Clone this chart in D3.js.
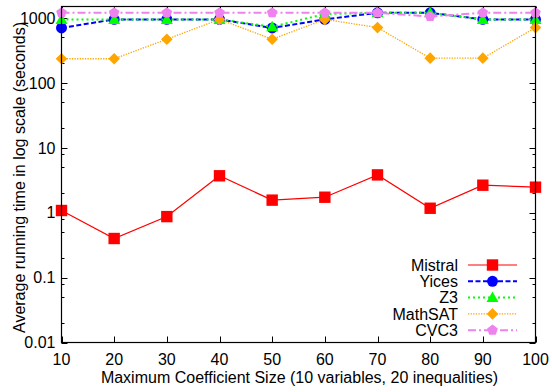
<!doctype html>
<html lang="en">
<head>
    <meta charset="utf-8">
    <title>Solver running times</title>
    <script src="https://cdnjs.cloudflare.com/ajax/libs/d3/7.8.5/d3.min.js"></script>
    <style>
        body { margin: 0; background: #fff; }
        svg text {
            font: 16px "Liberation Sans", Arial, sans-serif;
            fill: #000;
        }
    </style>
</head>
<body>
    <div id="chart"></div>
    <script>
        var sizes = [10, 20, 30, 40, 50, 60, 70, 80, 90, 100];
        var mistral = [1.08, 0.40, 0.87, 3.7, 1.56, 1.73, 3.82, 1.17, 2.65, 2.47];
        var yices = [700, 950, 950, 950, 700, 950, 1200, 1200, 950, 950];
        var z3 = [950, 950, 950, 950, 730, 1150, 1200, 1200, 950, 950];
        var mathsat = [235, 235, 470, 950, 470, 950, 710, 240, 240, 710];
        var cvc3 = [1200, 1200, 1200, 1200, 1200, 1200, 1200, 1050, 1200, 1200];
        var yTickValues = [0.01, 0.1, 1, 10, 100, 1000];
        var yTickLabels = ['0.01', '0.1', '1', '10', '100', '1000'];

        var series = [
            {name: 'Mistral', values: mistral, color: '#ff0000', width: 1.2, dash: null, shape: 'square'},
            {name: 'Yices', values: yices, color: '#0000ff', width: 2, dash: '5,2.5', shape: 'circle'},
            {name: 'Z3', values: z3, color: '#00ff00', width: 2, dash: '2,3', shape: 'triangle'},
            {name: 'MathSAT', values: mathsat, color: '#ffa500', width: 1.3, dash: '1.3,1.3', shape: 'diamond'},
            {name: 'CVC3', values: cvc3, color: '#ee82ee', width: 2, dash: '8,3,2,3', shape: 'pentagon'}
        ];

        var width = 552, height = 392;
        var pLeft = 61.5, pRight = 535.5, pTop = 6.5, pBottom = 342.5;

        var svg = d3.select('#chart').append('svg')
            .attr('width', width)
            .attr('height', height);

        var x = d3.scaleLinear().domain([10, 100]).range([pLeft, pRight]);
        var y = d3.scaleLog().domain([0.01, 1500]).range([pBottom, pTop]);

        // minor ticks at 2, 5, 8 of each decade
        var minor = [];
        yTickValues.forEach(function(v) {
            [2, 5, 8].forEach(function(m) {
                if (v * m <= 1500) minor.push(v * m);
            });
        });

        var axes = svg.append('g');
        function tickLines(g, vals, len) {
            vals.forEach(function(v) {
                var yy = Math.round(y(v)) + 0.5;
                g.append('line').attr('x1', pLeft).attr('x2', pLeft + len).attr('y1', yy).attr('y2', yy);
                g.append('line').attr('x1', pRight - len).attr('x2', pRight).attr('y1', yy).attr('y2', yy);
            });
        }
        var tg = axes.append('g').attr('stroke', '#000').attr('stroke-width', 1);
        tickLines(tg, yTickValues, 6);
        tickLines(tg, minor, 3);
        sizes.forEach(function(s) {
            var xx = Math.round(x(s)) + 0.5;
            tg.append('line').attr('x1', xx).attr('x2', xx).attr('y1', pBottom).attr('y2', pBottom - 6);
            tg.append('line').attr('x1', xx).attr('x2', xx).attr('y1', pTop).attr('y2', pTop + 6);
        });

        axes.selectAll('.ylab').data(yTickValues).enter().append('text')
            .attr('x', pLeft - 6)
            .attr('y', function(d) { return y(d); })
            .attr('dy', '0.36em')
            .attr('text-anchor', 'end')
            .text(function(d, i) { return yTickLabels[i]; });

        axes.selectAll('.xlab').data(sizes).enter().append('text')
            .attr('x', function(d) { return x(d); })
            .attr('y', 365)
            .attr('text-anchor', 'middle')
            .text(function(d) { return d; });

        svg.append('text')
            .attr('x', (pLeft + pRight) / 2 + 1)
            .attr('y', 383)
            .attr('text-anchor', 'middle')
            .text('Maximum Coefficient Size (10 variables, 20 inequalities)');

        svg.append('text')
            .attr('transform', 'translate(25,' + ((pTop + pBottom) / 2 + 3) + ') rotate(-90)')
            .attr('text-anchor', 'middle')
            .text('Average running time in log scale (seconds)');

        function shapePath(shape) {
            var r = 5.6, p;
            if (shape === 'square') return 'M-5.7,-5.7H5.7V5.7H-5.7Z';
            if (shape === 'circle') return d3.symbol().type(d3.symbolCircle).size(Math.PI * 30)();
            if (shape === 'triangle') return 'M0,-6L6,4.5L-6,4.5Z';
            if (shape === 'diamond') return 'M0,-5.8L5.8,0L0,5.8L-5.8,0Z';
            p = d3.range(5).map(function(i) {
                var a = -Math.PI / 2 + i * 2 * Math.PI / 5;
                return [r * Math.cos(a), r * Math.sin(a)];
            });
            return 'M' + p.join('L') + 'Z';
        }

        var line = d3.line()
            .x(function(d, i) { return x(sizes[i]); })
            .y(function(d) { return y(d); });

        var plot = svg.append('g');
        series.forEach(function(s) {
            var g = plot.append('g');
            g.append('path')
                .attr('d', line(s.values))
                .attr('fill', 'none')
                .attr('stroke', s.color)
                .attr('stroke-width', s.width)
                .attr('stroke-dasharray', s.dash);
            g.selectAll('path.pt').data(s.values).enter().append('path')
                .attr('class', 'pt')
                .attr('d', shapePath(s.shape))
                .attr('transform', function(d, i) { return 'translate(' + x(sizes[i]) + ',' + y(d) + ')'; })
                .attr('fill', s.color);
        });

        // legend
        var legend = svg.append('g');
        series.forEach(function(s, i) {
            var ly = 265 + i * 16.3;
            legend.append('text')
                .attr('x', 458)
                .attr('y', ly)
                .attr('dy', '0.36em')
                .attr('text-anchor', 'end')
                .text(s.name);
            legend.append('line')
                .attr('x1', 468).attr('x2', 517)
                .attr('y1', ly).attr('y2', ly)
                .attr('stroke', s.color)
                .attr('stroke-width', s.width)
                .attr('stroke-dasharray', s.dash);
            legend.append('path')
                .attr('d', shapePath(s.shape))
                .attr('transform', 'translate(492.5,' + ly + ')')
                .attr('fill', s.color);
        });

        svg.append('rect')
            .attr('x', pLeft).attr('y', pTop)
            .attr('width', pRight - pLeft).attr('height', pBottom - pTop)
            .attr('fill', 'none')
            .attr('stroke', '#000')
            .attr('stroke-width', 1.2);
    </script>
</body>
</html>
